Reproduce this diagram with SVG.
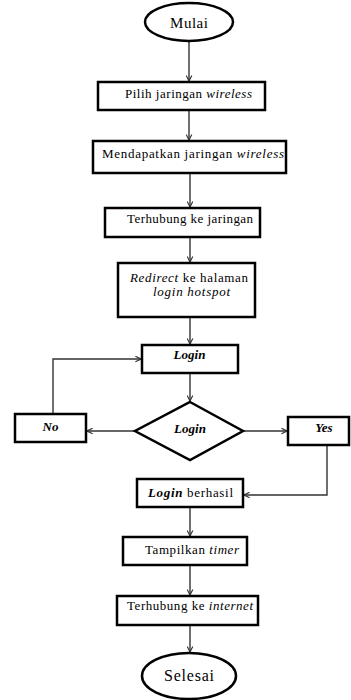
<svg xmlns="http://www.w3.org/2000/svg" width="351" height="700" viewBox="0 0 351 700">
<style>
.n{fill:#fff;stroke:#000;stroke-width:2.5}
.t{font-family:"Liberation Serif","DejaVu Serif",serif;font-size:13px;fill:#000;text-anchor:middle}
.i{font-style:italic}
.b{font-weight:bold;font-style:italic}
.c{fill:none;stroke:#333;stroke-width:1.4;marker-end:url(#a)}
</style>
<defs>
<marker id="a" viewBox="0 0 10 10" refX="9" refY="5" markerWidth="7" markerHeight="7" markerUnits="userSpaceOnUse" orient="auto">
<path d="M1,1 L9,5 L1,9" fill="none" stroke="#333" stroke-width="1.6"/>
</marker>
</defs>
<rect width="351" height="700" fill="#fff"/>
<g id="connectors">
<path class="c" d="M189,41 V81"/>
<path class="c" d="M189,110 V140"/>
<path class="c" d="M190,173 V207"/>
<path class="c" d="M190,237 V262"/>
<path class="c" d="M190,317 V344"/>
<path class="c" d="M190,373 V401"/>
<path class="c" d="M135,431 H87"/>
<path class="c" d="M53,414 V359 H141"/>
<path class="c" d="M243,431 H287"/>
<path class="c" d="M327,445 V495 H244"/>
<path class="c" d="M190,507 V536"/>
<path class="c" d="M190,565 V595"/>
<path class="c" d="M190,625 V652"/>
</g>
<g id="mulai"><ellipse class="n" cx="189" cy="22" rx="44" ry="19"/><text class="t" x="189" y="28" style="font-size:15px" textLength="38" lengthAdjust="spacing">Mulai</text></g>
<g id="pilih"><rect class="n" x="98" y="82" width="167" height="28"/><text class="t" x="188.5" y="98" textLength="127" lengthAdjust="spacing">Pilih jaringan <tspan class="i">wireless</tspan></text></g>
<g id="mendapatkan"><rect class="n" x="93" y="141" width="193" height="32"/><text class="t" x="193" y="158" textLength="182" lengthAdjust="spacing">Mendapatkan jaringan <tspan class="i">wireless</tspan></text></g>
<g id="terhubung-jaringan"><rect class="n" x="105" y="208" width="155" height="29"/><text class="t" x="190" y="223" textLength="126" lengthAdjust="spacing">Terhubung ke jaringan</text></g>
<g id="redirect"><rect class="n" x="118" y="263" width="137" height="54"/><text class="t" x="189" y="282" textLength="118" lengthAdjust="spacing"><tspan class="i">Redirect</tspan> ke halaman</text><text class="t i" x="191.5" y="296" textLength="77" lengthAdjust="spacing">login hotspot</text></g>
<g id="login-box"><rect class="n" x="142" y="345" width="96" height="28"/><text class="t b" x="189.5" y="359">Login</text></g>
<g id="login-decision"><polygon class="n" points="190,402 243,431 190,460 135,431"/><text class="t b" x="190" y="433">Login</text></g>
<g id="no"><rect class="n" x="15" y="414" width="71" height="28"/><text class="t b" x="50.5" y="431">No</text></g>
<g id="yes"><rect class="n" x="288" y="417" width="61" height="28"/><text class="t b" x="324" y="432">Yes</text></g>
<g id="login-berhasil"><rect class="n" x="137" y="479" width="106" height="28"/><text class="t" x="190.5" y="497" textLength="85" lengthAdjust="spacing"><tspan class="b">Login</tspan> berhasil</text></g>
<g id="timer"><rect class="n" x="123" y="537" width="124" height="28"/><text class="t" x="192" y="554" textLength="94" lengthAdjust="spacing">Tampilkan <tspan class="i">timer</tspan></text></g>
<g id="internet"><rect class="n" x="117" y="596" width="141" height="29"/><text class="t" x="190" y="610" textLength="126" lengthAdjust="spacing">Terhubung ke <tspan class="i">internet</tspan></text></g>
<g id="selesai"><ellipse class="n" cx="189" cy="676" rx="47" ry="23"/><text class="t" x="189" y="681" style="font-size:16px" textLength="50" lengthAdjust="spacing">Selesai</text></g>
</svg>
